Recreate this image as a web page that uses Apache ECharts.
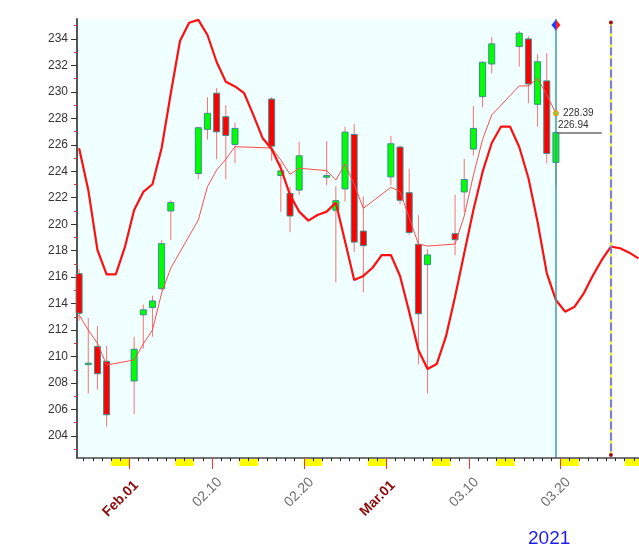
<!DOCTYPE html>
<html><head><meta charset="utf-8">
<script src="https://cdn.jsdelivr.net/npm/echarts@6/dist/echarts.min.js"></script>
<style>html,body{margin:0;padding:0;background:#fff}#c{width:639px;height:558px}</style>
</head><body><div id="c"></div>
<script>
// ---- data ----
const ORIGIN = '2021-01-26';
const tradeDates = ['2021-01-26','2021-01-27','2021-01-28','2021-01-29','2021-02-01','2021-02-02','2021-02-03','2021-02-04','2021-02-05','2021-02-08','2021-02-09','2021-02-10','2021-02-11','2021-02-12','2021-02-16','2021-02-17','2021-02-18','2021-02-19','2021-02-22','2021-02-23','2021-02-24','2021-02-25','2021-02-26','2021-03-01','2021-03-02','2021-03-03','2021-03-04','2021-03-05','2021-03-08','2021-03-09','2021-03-10','2021-03-11','2021-03-12','2021-03-15','2021-03-16','2021-03-17','2021-03-18','2021-03-19'];
const openV  = [216.26,209.40,210.75,209.64,208.15,213.15,213.70,215.12,221.00,223.83,227.17,229.90,228.12,226.03,229.46,223.68,222.32,222.58,223.55,221.05,222.67,226.78,219.48,223.58,225.83,222.38,218.48,216.94,219.28,222.44,225.68,229.64,232.11,233.43,234.00,229.06,230.83,224.67];
const closeV = [213.27,209.50,208.70,205.60,210.55,213.53,214.20,218.53,221.64,227.29,228.38,226.98,226.71,227.24,225.90,224.03,220.62,225.17,223.68,221.78,226.96,218.65,218.38,226.08,221.81,219.38,213.23,217.68,218.83,223.38,227.24,232.24,233.63,234.44,230.60,232.28,225.35,226.94];
const lowV   = [212.72,207.20,207.50,204.70,205.65,210.60,211.50,215.00,218.80,223.40,226.40,224.90,223.40,224.60,224.80,220.93,219.40,222.20,222.95,215.60,221.70,217.90,214.85,222.95,221.50,219.20,209.40,207.20,217.65,220.93,225.17,228.83,231.40,231.90,229.14,227.36,224.60,222.95];
const highV  = [216.60,212.90,212.30,210.80,211.50,213.93,214.60,218.80,221.80,227.35,229.60,230.30,229.00,227.70,229.60,224.64,222.82,226.23,226.28,222.87,227.36,227.58,222.10,226.68,225.95,224.20,220.68,218.10,222.24,224.94,228.93,232.30,234.14,234.60,234.20,232.85,232.93,227.00];
const maV    = [213.14,212.00,211.00,209.36,209.74,210.95,212.00,214.80,216.69,220.32,222.84,224.10,224.91,225.86,225.76,224.85,223.77,224.23,224.05,223.34,224.55,223.00,221.20,222.79,222.46,220.50,218.50,218.35,218.50,220.62,223.70,226.40,228.26,230.45,230.45,231.03,229.77,228.39];
// cycle curve, one value per calendar day starting at ORIGIN
const cycleV = [225.74,222.59,218.05,216.21,216.21,218.28,221.07,222.44,223.02,225.76,229.90,233.85,235.23,235.44,234.30,232.26,230.77,230.41,229.90,228.26,226.52,225.69,224.23,222.21,220.95,220.27,220.70,220.95,221.63,218.72,215.78,216.09,216.71,217.67,217.67,216.09,213.37,210.49,209.06,209.43,211.50,214.52,217.80,221.07,223.95,226.14,227.37,227.37,225.84,223.49,220.17,216.31,214.27,213.39,213.74,214.73,216.09,217.30,218.30,218.18,217.85,217.42];
const labelDates = ['2021-02-01','2021-02-10','2021-02-20','2021-03-01','2021-03-10','2021-03-20'];
const labelTexts = ['Feb.01','02.10','02.20','Mar.01','03.10','03.20'];
const yLabels = [204,206,208,210,212,214,216,218,220,222,224,226,228,230,232,234];
const yMinor = [203,205,207,209,211,213,215,217,219,221,223,225,227,229,231,233,235];
const lastDate = '2021-03-19';
const projDate = '2021-03-25';
const lastMA = 228.39, lastClose = 226.94;
const yearText = '2021';

// ---- helpers ----
const DAY = 86400000;
const t0 = Date.parse(ORIGIN + 'T00:00:00Z');
const dayOf = s => (Date.parse(s + 'T00:00:00Z') - t0) / DAY;
const X_MIN = 0.27, X_MAX = 61.56, Y_MIN = 202.33, Y_MAX = 235.51;
const LABEL_SHIFT = 0.85;

const candles = tradeDates.map((d, i) => [dayOf(d) + 0.5, openV[i], closeV[i], lowV[i], highV[i]]);
const maLine = tradeDates.map((d, i) => [dayOf(d) + 0.5, maV[i]]);
const cycleLine = cycleV.map((v, i) => [i + 0.5, v]);
const dayTicks = [];
for (let d = Math.ceil(X_MIN); d <= Math.floor(X_MAX); d++) dayTicks.push(d);
const weekendStarts = [];
for (let d = Math.floor(X_MIN) - 1; d <= X_MAX; d++) {
  const wd = new Date(t0 + d * DAY).getUTCDay();
  if (wd === 6) weekendStarts.push(d);
}
const labelDays = labelDates.map(dayOf);
const labelMap = {};
labelDays.forEach((d, i) => labelMap[d] = labelTexts[i]);
const xLast = dayOf(lastDate) + 0.5;
const xProj = dayOf(projDate) + 0.5;
const FONT = 'Liberation Sans, Arial, sans-serif';
const noZero = {onZero: false};

const chart = echarts.init(document.getElementById('c'), null, {renderer: 'canvas'});
chart.setOption({
  animation: false,
  grid: [
    {left: 77, right: 0, top: 19, bottom: 100, containLabel: false, outerBoundsMode: 'none'},
    {left: 77, right: 0, top: 459, height: 7, containLabel: false, outerBoundsMode: 'none'}
  ],
  xAxis: [
    {type: 'value', gridIndex: 0, position: 'bottom', min: X_MIN, max: X_MAX, z: 5,
     axisLine: {show: true, onZero: false, lineStyle: {color: '#4a4a4a', width: 1.5}},
     axisTick: {show: true, customValues: dayTicks, length: 3, lineStyle: {color: '#222'}},
     axisLabel: {show: false}, splitLine: {show: false}},
    {type: 'value', gridIndex: 0, position: 'bottom', offset: 0, min: X_MIN, max: X_MAX, z: 6,
     axisLine: {show: false, onZero: false},
     axisTick: {show: true, customValues: labelDays, length: 11, lineStyle: {color: '#ff3030', width: 1}},
     axisLabel: {show: false}, splitLine: {show: false}},
    {type: 'value', gridIndex: 0, position: 'bottom', offset: 0, min: X_MIN - LABEL_SHIFT, max: X_MAX - LABEL_SHIFT, z: 6,
     axisLine: {show: false, onZero: false}, axisTick: {show: false}, splitLine: {show: false},
     axisLabel: {show: true, customValues: labelDays, rotate: 45, margin: 22,
       formatter: v => {
         const t = labelMap[v];
         if (!t) return '';
         return /[A-Za-z]/.test(t) ? '{m|' + t + '}' : '{d|' + t + '}';
       },
       rich: {
         m: {fontFamily: FONT, fontSize: 14, fontWeight: 'bold', color: '#8b0a0a', padding: [3, 3, 0, 0]},
         d: {fontFamily: FONT, fontSize: 14, color: '#6e6e6e'}
       }}},
    {type: 'value', gridIndex: 1, min: X_MIN, max: X_MAX, show: false, axisLine: noZero}
  ],
  yAxis: [
    {type: 'value', gridIndex: 0, position: 'left', min: Y_MIN, max: Y_MAX, z: 1.5,
     axisLine: {show: true, onZero: false, lineStyle: {color: '#555', width: 2}},
     axisTick: {show: true, customValues: yLabels, length: 6, lineStyle: {color: '#333'}},
     axisLabel: {show: true, customValues: yLabels, margin: 9, fontFamily: FONT, fontSize: 12, color: '#333'},
     splitLine: {show: false}},
    {type: 'value', gridIndex: 0, position: 'left', offset: 0, min: Y_MIN, max: Y_MAX, z: 1.5,
     axisLine: {show: false, onZero: false},
     axisTick: {show: true, customValues: yMinor, length: 3, lineStyle: {color: '#d03a3a'}},
     axisLabel: {show: false}, splitLine: {show: false}},
    {type: 'value', gridIndex: 1, min: 0, max: 1, show: false, axisLine: noZero}
  ],
  graphic: [
    {type: 'text', left: 528, top: 529, style: {text: yearText, fill: '#2020ee', font: '19px ' + FONT}}
  ],
  series: [
    { // weekend markers
      type: 'custom', xAxisIndex: 3, yAxisIndex: 2, z: 1, silent: true,
      data: weekendStarts.map(d => [d]),
      renderItem: (params, api) => {
        const d = api.value(0);
        const a = api.coord([Math.max(d, X_MIN), 1]);
        const b = api.coord([Math.min(d + 2, X_MAX), 0]);
        return {type: 'rect', shape: {x: a[0], y: a[1], width: b[0] - a[0], height: b[1] - a[1]}, style: {fill: '#ffff00'}};
      }
    },
    { // background
      type: 'line', data: [], z: 1, silent: true,
      markArea: {silent: true, itemStyle: {color: '#f0ffff'},
        data: [[{xAxis: X_MIN}, {xAxis: xLast}]]}
    },
    { // candles
      type: 'custom', z: 2,
      data: candles,
      encode: {x: 0, y: [1, 2, 3, 4]},
      renderItem: (params, api) => {
        const x = api.value(0), o = api.value(1), c = api.value(2), l = api.value(3), h = api.value(4);
        const pO = api.coord([x, o]), pC = api.coord([x, c]), pL = api.coord([x, l]), pH = api.coord([x, h]);
        const w = 6;
        const top = Math.min(pO[1], pC[1]), bot = Math.max(pO[1], pC[1]);
        return {type: 'group', children: [
          {type: 'line', shape: {x1: pH[0], y1: pH[1], x2: pL[0], y2: pL[1]}, style: {stroke: '#ff7070', lineWidth: 1}},
          {type: 'rect', shape: {x: pO[0] - w / 2, y: top, width: w, height: Math.max(bot - top, 1.5)},
           style: {fill: c >= o ? '#00ff00' : '#ff0000', stroke: '#3a8e8e', lineWidth: 1}}
        ]};
      }
    },
    { // thin average line
      type: 'line', z: 3, data: maLine, symbol: 'none', smooth: false,
      lineStyle: {color: '#ff4c4c', width: 1},
      markPoint: {
        silent: true,
        data: [
          {coord: [xLast, lastMA], value: lastMA, symbol: 'circle', symbolSize: 5,
           itemStyle: {color: '#9acd32', borderColor: '#ff8c00', borderWidth: 1},
           label: {show: true, position: 'right', distance: 4, formatter: String(lastMA), color: '#333', fontFamily: FONT, fontSize: 10}},
          {coord: [xLast, Y_MAX - 0.45], symbol: 'diamond', symbolSize: [9, 11],
           itemStyle: {color: {type: 'linear', x: 0, y: 0, x2: 1, y2: 0, colorStops: [{offset: 0, color: '#2040ff'}, {offset: 0.5, color: '#2040ff'}, {offset: 0.5, color: '#ff2020'}, {offset: 1, color: '#ff2020'}]}},
           label: {show: false}},
          {coord: [xProj, Y_MAX - 0.27], symbol: 'circle', symbolSize: 4, itemStyle: {color: '#a01010'}, label: {show: false}},
          {coord: [xProj, Y_MIN + 0.23], symbol: 'circle', symbolSize: 4, itemStyle: {color: '#a01010'}, label: {show: false}}
        ]
      },
      markLine: {
        silent: true, symbol: 'none',
        data: [
          [{coord: [xLast, lastClose], lineStyle: {color: '#6a6a6a', width: 1.5, type: 'solid'},
            label: {show: true, position: 'insideStartTop', distance: 2, formatter: String(lastClose), color: '#333', fontFamily: FONT, fontSize: 10}},
           {coord: [xLast + 5, lastClose]}]
        ]
      }
    },
    { // cycle curve
      type: 'line', z: 4, data: cycleLine, symbol: 'none', smooth: false,
      lineStyle: {color: '#ff1010', width: 2.2},
      markLine: {
        silent: true, symbol: 'none', label: {show: false},
        data: [
          {xAxis: xLast, lineStyle: {color: '#3a9e9e', width: 1.5, type: 'solid'}},
          [{coord: [xProj, Y_MAX - 0.27], lineStyle: {color: '#8080d0', width: 2.2, type: 'solid'}}, {coord: [xProj, Y_MIN + 0.23]}],
          [{coord: [xProj, Y_MAX - 0.27], lineStyle: {color: '#ffff20', width: 2.2, type: [3, 8]}}, {coord: [xProj, Y_MIN + 0.23]}]
        ]
      }
    }
  ]
});
</script></body></html>
